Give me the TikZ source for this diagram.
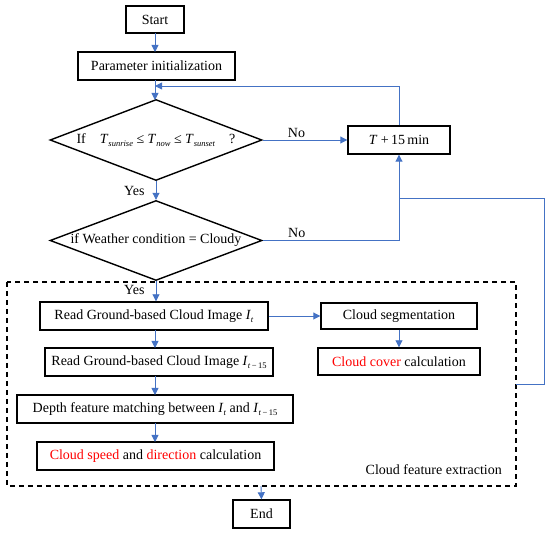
\documentclass[tikz,border=0pt]{standalone}
\usepackage{fontspec}
\setmainfont{Liberation Serif}
\usetikzlibrary{shapes.geometric,arrows.meta}
\definecolor{flowblue}{RGB}{68,114,196}
\definecolor{hired}{RGB}{255,0,0}
\newcommand{\mysub}[1]{\raisebox{-2.8pt}{\fontsize{8.5}{9}\selectfont #1}}
\begin{document}
\begin{tikzpicture}[x=1pt,y=-1pt,
  box/.style={draw,line width=1.4pt,inner sep=0pt,font=\fontsize{14}{16}\selectfont,align=center},
  dec/.style={draw,diamond,line width=1.4pt,inner sep=0pt},
  flow/.style={draw=flowblue,line width=0.9pt,-{Triangle[width=7pt,length=7pt]}},
  flowline/.style={draw=flowblue,line width=0.9pt},
  lbl/.style={font=\fontsize{14}{16}\selectfont,inner sep=0pt}]
\useasboundingbox (0,0) rectangle (550,534);
% dashed group
\draw[line width=1.3pt,dash pattern=on 5pt off 4pt] (7,282) rectangle (516,486);
\node[lbl,anchor=base east] (grp) at (502,475) {Cloud feature extraction};
% nodes
\node[box,minimum width=58,minimum height=27] (start) at (155,19.5) {Start};
\node[box,minimum width=157,minimum height=28] (param) at (156.5,66) {Parameter initialization};
\node[dec,minimum width=212,minimum height=81] (c1) at (156,140) {};
\node[lbl] (c1t) at (c1.center) {If\hspace{14pt}\textit{T}\mysub{\textit{sunrise}} ≤ \textit{T}\mysub{\textit{now}} ≤ \textit{T}\mysub{\textit{sunset}}\hspace{14pt}?};
\node[box,minimum width=102,minimum height=28] (tp) at (399,140) {\textit{T} +\,15\,min};
\node[dec,minimum width=212,minimum height=80] (c2) at (156,240.5) {};
\node[lbl] (c2t) at (c2.center) {if Weather condition = Cloudy};
\node[box,minimum width=228,minimum height=28] (r1) at (154,316) {Read Ground-based Cloud Image \textit{I}\mysub{\textit{t}}};
\node[box,minimum width=156,minimum height=26] (seg) at (399,316) {Cloud segmentation};
\node[box,minimum width=162,minimum height=27] (cov) at (399,361.5) {\textcolor{hired}{Cloud cover} calculation};
\node[box,minimum width=228,minimum height=28] (r2) at (159,362) {Read Ground-based Cloud Image \textit{I}\mysub{\textit{t}\,−\,15}};
\node[box,minimum width=276,minimum height=28] (dep) at (155,409) {Depth feature matching between \textit{I}\mysub{\textit{t}} and \textit{I}\mysub{\textit{t}\,−\,15}};
\node[box,minimum width=237,minimum height=28] (spd) at (155.5,456) {\textcolor{hired}{Cloud speed} and \textcolor{hired}{direction} calculation};
\node[box,minimum width=57,minimum height=28] (endn) at (261.5,514) {End};
% coordinates
\coordinate (fb) at (155,86);
\coordinate (grpbot) at (261,486);
\coordinate (grpright) at (516,384);
\coordinate (split) at (399,198);
% connectors
\draw[flow] (155,33) -- (155,52);
\draw[flow] (155,80) -- (155,100);
\draw[flow] (tp.north) -- (tp.north |- fb) -- (fb);
\draw[flow] (c1.east) -- node[lbl,above=2pt,pos=0.4] (no1) {No} (tp.west);
\draw[flow] (c1.south) -- node[lbl,left=11pt] (yes1) {Yes} (c2.north);
\draw[flow] (c2.east) -- node[lbl,above=2pt,pos=0.25] (no2) {No} (c2.east -| tp.south) -- (tp.south);
\draw[flowline] (split) -- (544,198) -- (544,384) -- (grpright);
\draw[flow] (c2.south) -- node[lbl,left=11pt,pos=0.45] (yes2) {Yes} (c2.south |- r1.north);
\draw[flow] (r1.east) -- (seg.west);
\draw[flow] (seg.south) -- (cov.north);
\draw[flow] (155,330) -- (155,348);
\draw[flow] (155,376) -- (155,395);
\draw[flow] (155,423) -- (155,442);
\draw[flow] (grpbot) -- (endn.north);
\end{tikzpicture}
\end{document}
